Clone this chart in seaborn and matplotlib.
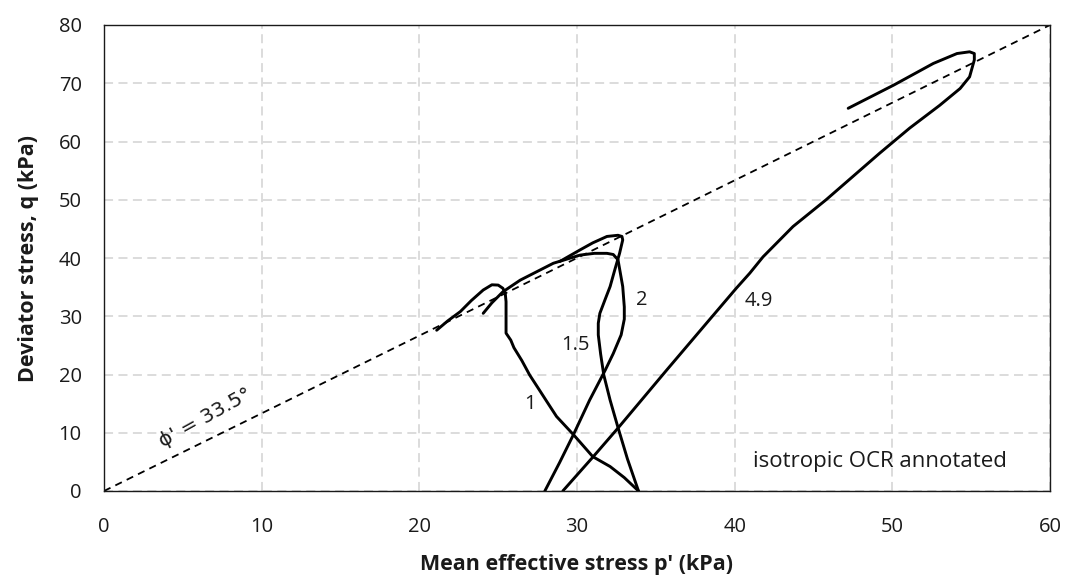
import numpy as np
import pandas as pd
import matplotlib
matplotlib.use("Agg")
import matplotlib.pyplot as plt
import seaborn as sns

# ---- data ----
ocr1_p = [33.9, 33.0, 32.1, 31.0, 29.8, 28.7, 28.1, 27.6, 27.0, 26.5, 26.0, 25.8, 25.5, 25.5, 25.5, 25.45, 25.3, 25.0, 24.6, 24.05, 23.3, 22.6, 21.8, 21.1]
ocr1_q = [0.0, 2.3, 4.2, 5.9, 9.6, 12.8, 15.3, 17.4, 19.9, 22.4, 24.6, 25.9, 27.1, 30.5, 32.5, 33.9, 34.8, 35.35, 35.4, 34.5, 32.7, 30.8, 29.2, 27.6]

ocr15_p = [33.9, 33.2, 32.6, 32.1, 31.7, 31.5, 31.35, 31.35, 31.45, 31.8, 32.1, 32.4, 32.7, 32.9, 32.85, 32.6, 31.9, 31.0, 30.2, 29.1, 28.9]
ocr15_q = [0.0, 5.5, 10.9, 15.6, 19.9, 23.5, 26.8, 28.8, 30.5, 33.0, 35.1, 38.0, 40.8, 43.1, 43.7, 43.9, 43.7, 42.6, 41.4, 39.7, 39.4]

ocr2_p = [27.96, 28.9, 29.76, 30.8, 31.8, 32.3, 32.8, 33.0, 33.0, 32.9, 32.6, 32.3, 31.9, 31.1, 30.2, 28.5, 26.4, 25.3, 24.6, 24.05]
ocr2_q = [0.0, 4.9, 9.6, 15.6, 20.8, 23.6, 26.8, 29.5, 31.6, 35.1, 39.7, 40.6, 40.8, 40.8, 40.5, 39.1, 36.2, 34.2, 32.3, 30.5]

ocr49_p = [29.1, 31.0, 32.6, 35.7, 38.4, 40.1, 40.96, 41.8, 43.7, 45.8, 49.2, 51.1, 53.0, 54.3, 54.9, 55.2, 55.2, 54.9, 54.1, 52.6, 50.1, 47.2]
ocr49_q = [0.0, 5.8, 10.8, 20.8, 29.4, 34.8, 37.4, 40.2, 45.4, 50.0, 58.0, 62.3, 66.2, 69.1, 71.1, 74.0, 75.1, 75.4, 75.1, 73.4, 69.7, 65.7]

csl_p = [0, 60]
csl_q = [0, 80]

ocr_labels = ["1", "1.5", "2", "4.9"]
label_p = [27.0, 29.9, 34.1, 41.5]
label_q = [15.0, 25.1, 32.8, 32.7]

frames = []
for name, p, q in [("1", ocr1_p, ocr1_q), ("1.5", ocr15_p, ocr15_q),
                   ("2", ocr2_p, ocr2_q), ("4.9", ocr49_p, ocr49_q)]:
    frames.append(pd.DataFrame({"p": p, "q": q, "ocr": name}))
df = pd.concat(frames, ignore_index=True)

sns.set_theme(style="white")
plt.rcParams["font.family"] = ["Open Sans", "DejaVu Sans"]

fig = plt.figure(figsize=(10.68, 5.77), dpi=100)
ax = fig.add_axes([104/1068, 1-491/577, (1050-104)/1068, (491-25)/577])

# critical state line
ax.plot(csl_p, csl_q, color="black", linestyle=(0, (4, 3)), linewidth=1.3, zorder=2)

sns.lineplot(data=df, x="p", y="q", units="ocr", estimator=None, sort=False,
             color="black", linewidth=2.1, ax=ax, zorder=3)
for ln in ax.get_lines()[1:]:
    ln.set_solid_joinstyle("round")
    ln.set_solid_capstyle("round")

for t, x, y in zip(ocr_labels, label_p, label_q):
    ax.text(x, y, t, fontsize=14.5, ha="center", va="center", color="#1a1a1a")

ax.text(6.4, 12.6, "\u03d5' = 33.5\u00b0", fontsize=14.5, ha="center", va="center",
        rotation=29, color="#1a1a1a", family=["DejaVu Sans"])
ax.text(49.2, 5.0, "isotropic OCR annotated", fontsize=16, ha="center", va="center",
        color="#1a1a1a")

ax.set_xlim(0, 60)
ax.set_ylim(0, 80)
ax.set_xticks(np.arange(0, 61, 10))
ax.set_yticks(np.arange(0, 81, 10))
ax.tick_params(axis="both", labelsize=14.5, colors="#1a1a1a", length=0)
ax.tick_params(axis="x", pad=19)
ax.tick_params(axis="y", pad=16)
ax.grid(True, color="#d9d9d9", linestyle=(0, (5, 3)), linewidth=1.3)
ax.set_axisbelow(True)
for s in ax.spines.values():
    s.set_visible(True)
    s.set_color("#1a1a1a")
    s.set_linewidth(1.0)

ax.set_xlabel("Mean effective stress p' (kPa)", fontsize=15.5, fontweight="bold", color="#1a1a1a", labelpad=12)
ax.set_ylabel("Deviator stress, q (kPa)", fontsize=15.5, fontweight="bold", color="#1a1a1a", labelpad=14)

fig.savefig("out.png", dpi=100)
